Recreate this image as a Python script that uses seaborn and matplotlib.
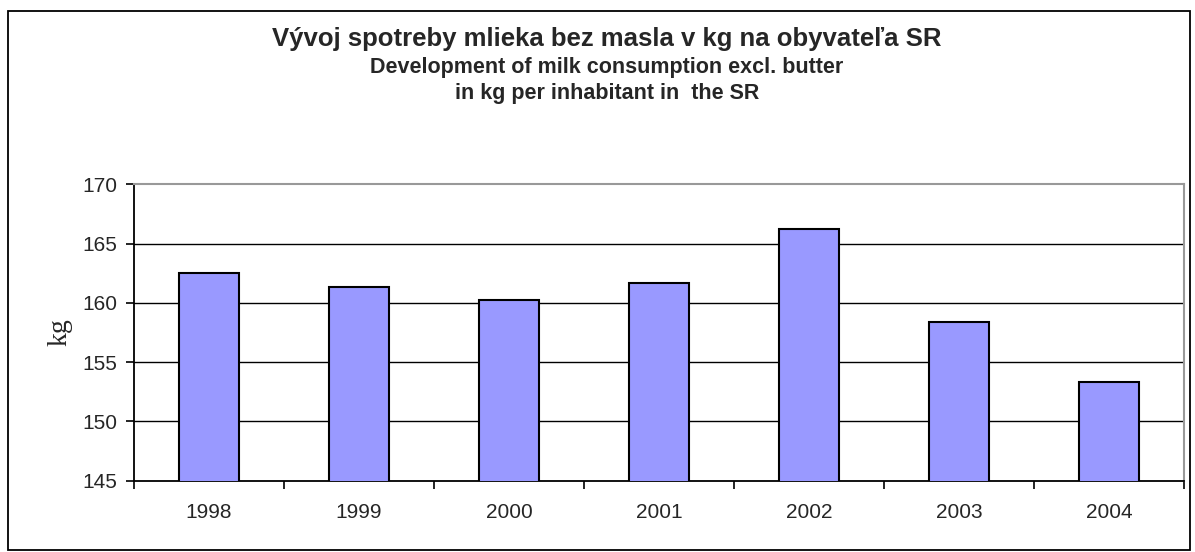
import matplotlib
matplotlib.use("Agg")
import matplotlib.pyplot as plt
import seaborn as sns
import pandas as pd
import numpy as np
from matplotlib.patches import Rectangle

years = ["1998", "1999", "2000", "2001", "2002", "2003", "2004"]
values = [162.5, 161.35, 160.2, 161.7, 166.25, 158.35, 153.3]
yticks = [145, 150, 155, 160, 165, 170]

title1 = "Vývoj spotreby mlieka bez masla v kg na obyvateľa SR"
title2 = "Development of milk consumption excl. butter"
title3 = "in kg per inhabitant in  the SR"

sns.set_style("white")
plt.rcParams['font.family'] = ['Liberation Sans', 'DejaVu Sans']

df = pd.DataFrame({"year": years, "kg": values})

fig = plt.figure(figsize=(11.95, 5.52), dpi=100)
ax = fig.add_axes([134/1195, 1-480.7/552, (1184-134)/1195, (480.7-184.3)/552])

sns.barplot(data=df, x="year", y="kg", ax=ax, color="#9999FF", width=0.4,
            edgecolor="black", linewidth=1.5, saturation=1, zorder=3)

ax.set_ylim(145, 170)
ax.set_xlim(-0.5, len(years) - 0.5)
ax.set_yticks(yticks)
ax.set_yticklabels([str(t) for t in yticks], fontsize=15)
ax.set_xticks(range(len(years)))
ax.set_xticklabels(years, fontsize=15)
ax.set_xticks(np.arange(-0.5, len(years), 1.0), minor=True)
ax.tick_params(axis='x', which='major', length=0, pad=16)
ax.tick_params(axis='x', which='minor', length=6, width=1.2, color='black', direction='out', bottom=True)
ax.tick_params(axis='y', length=6, width=1.2, color='black', direction='out', left=True, pad=6)

for t in yticks[1:-1]:
    ax.axhline(t, color='black', linewidth=1.0, zorder=1)

ax.set_xlabel("")
ax.set_ylabel("kg", fontsize=20, family=['Liberation Serif', 'DejaVu Serif'], labelpad=7)

for s in ['left', 'bottom']:
    ax.spines[s].set_color('black')
    ax.spines[s].set_linewidth(1.3)
for s in ['top', 'right']:
    ax.spines[s].set_color('#999999')
    ax.spines[s].set_linewidth(1.5)
    ax.spines[s].set_visible(True)

cx = 607/1195
fig.text(cx, 1-46/552, title1, ha='center', va='baseline', fontsize=18.5, fontweight='bold')
fig.text(cx, 1-73/552, title2, ha='center', va='baseline', fontsize=15.5, fontweight='bold')
fig.text(cx, 1-99/552, title3, ha='center', va='baseline', fontsize=15.5, fontweight='bold')

fig.patches.append(Rectangle((8/1195, 0.004), (1190-8)/1195, 1-11/552-0.004, transform=fig.transFigure,
                             fill=False, edgecolor='black', linewidth=1.3))

fig.savefig("out.png", dpi=100)
